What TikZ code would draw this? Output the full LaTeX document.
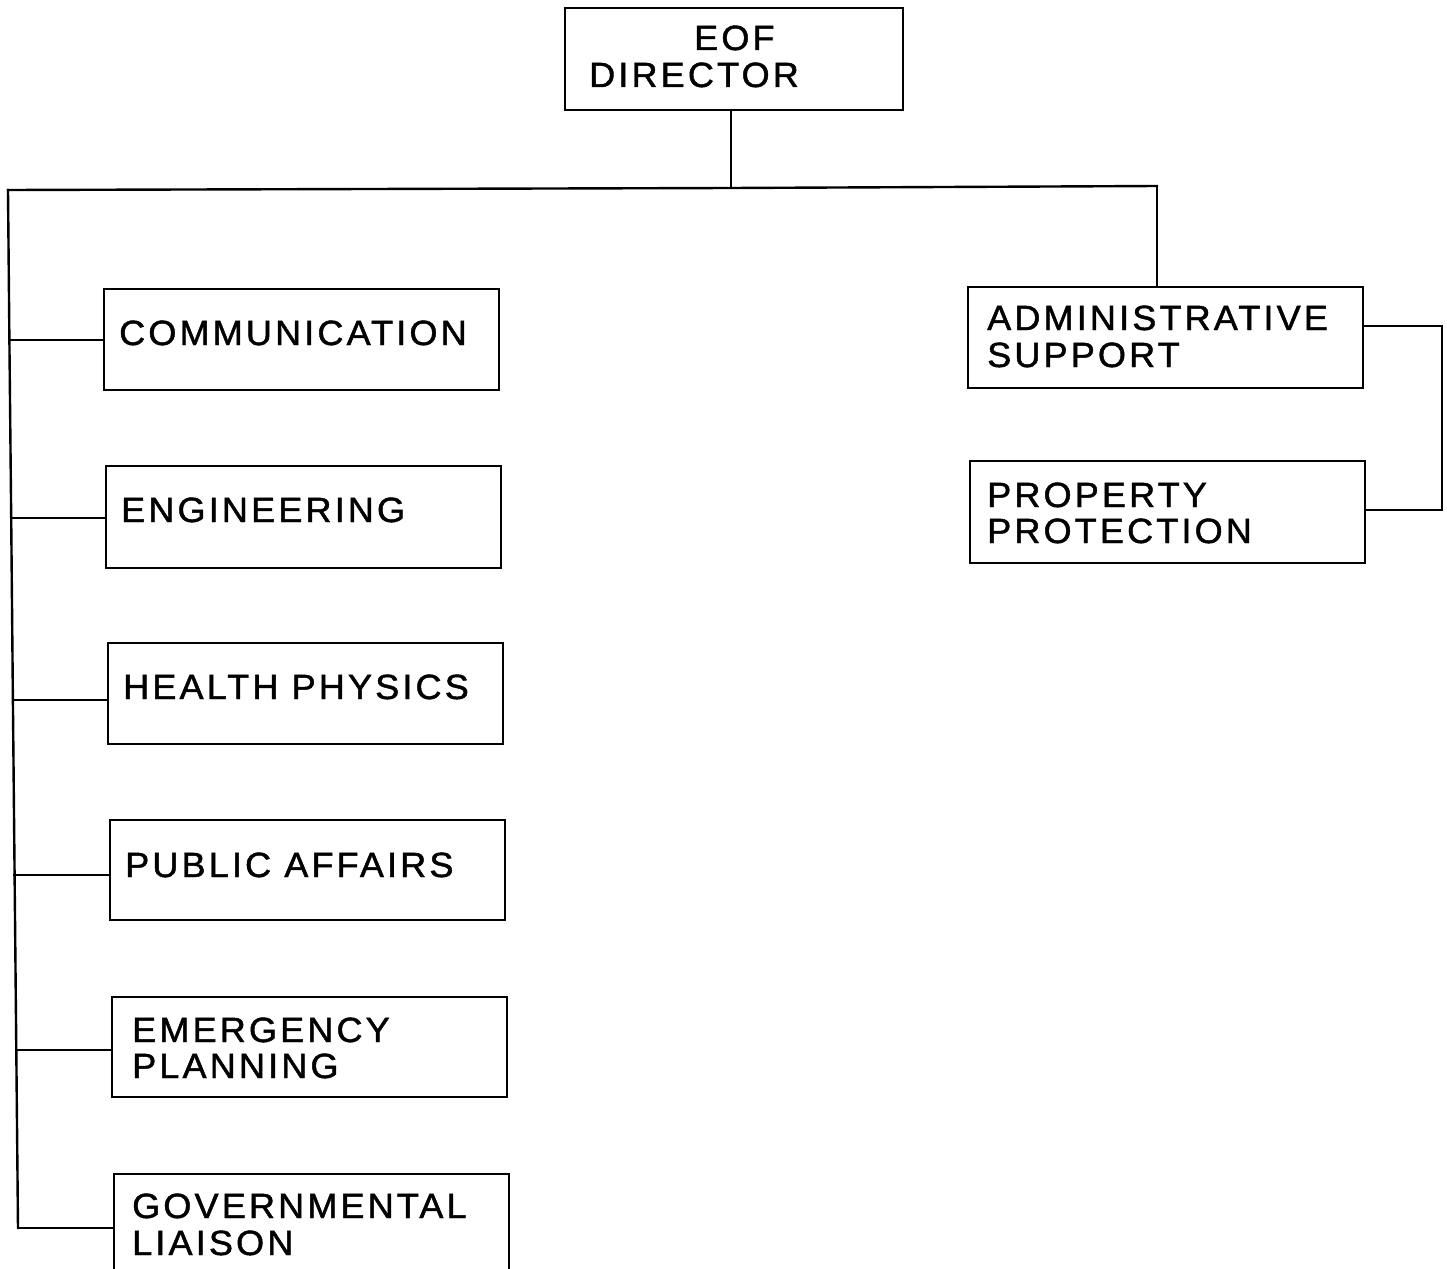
\documentclass[tikz,border=0pt]{standalone}
\usepackage{fontspec}
\setmainfont[LetterSpace=9,FakeStretch=1.03,FakeBold=1.3]{Liberation Sans}
\begin{document}
\begin{tikzpicture}[x=1pt,y=-1pt,
  line width=2.4pt, line cap=rect,
  box/.style={draw=black, rectangle, inner sep=0pt},
  lbl/.style={inner sep=0pt, anchor=base west, font=\fontsize{35}{37}\selectfont},
  wire/.style={draw=black, line width=2.4pt}]
\useasboundingbox (0,0) rectangle (1447,1268);
\clip (0,0) rectangle (1447,1268);
% boxes (center x, center y, width, height)
\node[box, minimum width=338pt, minimum height=102pt] (dir)  at (734,59) {};
\node[box, minimum width=395pt, minimum height=101pt] (comm) at (301.5,339.5) {};
\node[box, minimum width=395pt, minimum height=102pt] (eng)  at (303.5,517) {};
\node[box, minimum width=395pt, minimum height=101pt] (hp)   at (305.5,693.5) {};
\node[box, minimum width=395pt, minimum height=100pt] (pa)   at (307.5,870) {};
\node[box, minimum width=395pt, minimum height=100pt] (ep)   at (309.5,1047) {};
\node[box, minimum width=395pt, minimum height=110pt] (gl)   at (311.5,1229) {};
\node[box, minimum width=395pt, minimum height=101pt] (as)   at (1165.5,337.5) {};
\node[box, minimum width=395pt, minimum height=102pt] (pp)   at (1167.5,512) {};
% labels
\node[lbl] (dirA) at (693,50) {EOF};
\node[lbl] (dirB) at (588,87) {DIRECTOR};
\node[lbl] (commA) at (118,345) {COMMUNICATION};
\node[lbl] (engA) at (120,522) {ENGINEERING};
\node[lbl] (hpA) at (122,699) {HEALTH PHYSICS};
\node[lbl] (paA) at (124,877) {PUBLIC AFFAIRS};
\node[lbl] (epA) at (131,1042) {EMERGENCY};
\node[lbl] (epB) at (131,1078) {PLANNING};
\node[lbl] (glA) at (131,1218) {GOVERNMENTAL};
\node[lbl] (glB) at (131,1255) {LIAISON};
\node[lbl] (asA) at (986,330) {ADMINISTRATIVE};
\node[lbl] (asB) at (986,367) {SUPPORT};
\node[lbl] (ppA) at (986,507) {PROPERTY};
\node[lbl] (ppB) at (986,543) {PROTECTION};
% trunk coordinates
\coordinate (tl) at (8,190);
\coordinate (jn) at (731,188);
\coordinate (tr) at (1157,186);
\coordinate (t1) at (9.4,340);
\coordinate (t2) at (11.2,518);
\coordinate (t3) at (12.9,700);
\coordinate (t4) at (14.6,875);
\coordinate (t5) at (16.3,1050);
\coordinate (t6) at (18,1228);
\coordinate (bA) at (1442,326);
\coordinate (bB) at (1442,510);
% connectors
\draw[wire] (dir.south -| jn) -- (jn);
\draw[wire] (tl) -- (jn) -- (tr);
\draw[wire] (tr) -- (as.north -| tr);
\draw[wire] (tl) -- (t1) -- (t2) -- (t3) -- (t4) -- (t5) -- (t6);
\draw[wire] (t1) -- (comm.west |- t1);
\draw[wire] (t2) -- (eng.west |- t2);
\draw[wire] (t3) -- (hp.west |- t3);
\draw[wire] (t4) -- (pa.west |- t4);
\draw[wire] (t5) -- (ep.west |- t5);
\draw[wire] (t6) -- (gl.west |- t6);
\draw[wire] (as.east |- bA) -- (bA) -- (bB) -- (pp.east |- bB);
\end{tikzpicture}
\end{document}
